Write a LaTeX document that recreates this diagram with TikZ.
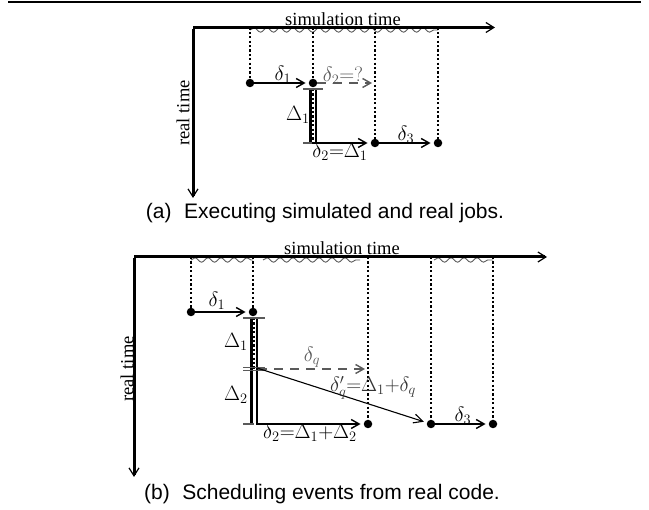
\documentclass[tikz,border=0pt]{standalone}
\usepackage{fontspec}
\setmainfont{Liberation Serif}
\newfontfamily\capfont{Liberation Sans}
\usetikzlibrary{arrows.meta,decorations.pathmorphing}
\definecolor{lg}{HTML}{5A5A5A}
\tikzset{
  axis/.style={line width=3pt,-{Straight Barb[length=8pt,width=10pt,line width=1.2pt]}},
  arr/.style={line width=2.4pt,-{Straight Barb[length=8pt,width=9pt,line width=1.4pt]},shorten >=3pt},
  garr/.style={arr,lg,dash pattern=on 9pt off 7pt},
  thinarr/.style={line width=1.1pt,-{Straight Barb[length=9pt,width=9pt,line width=1.1pt]},shorten >=3pt},
  dotline/.style={line width=2.3pt,dash pattern=on 2.2pt off 2.2pt},
  dot/.style={circle,fill=black,inner sep=0pt,minimum size=8.5pt},
  lbl/.style={font=\fontsize{22.5}{26}\selectfont,inner sep=0pt},
  axlbl/.style={font=\fontsize{18.5}{21}\selectfont,inner sep=0pt},
  captxt/.style={font=\capfont\fontsize{21}{24}\selectfont,inner sep=0pt},
  bar/.style={line width=2.4pt,double=white,double distance=3pt},
  tickline/.style={lg,line width=1.1pt},
  wave/.style={lg,line width=0.9pt,decorate,decoration={snake,segment length=13pt,amplitude=2.2pt}},
}
\begin{document}
\begin{tikzpicture}[x=1pt,y=-1pt]
\useasboundingbox (0,0) rectangle (649,510);
\draw[line width=1.3pt] (8,2) -- (641,2);
%%%%%%%%%%%% panel (a)
\coordinate (oa) at (193,27.5);
\coordinate (ha) at (495,27.5);
\coordinate (va) at (193,198);
\node[dot] (a1) at (250,83) {};
\node[dot] (a2) at (313,83) {};
\node[dot] (a3) at (375,143) {};
\node[dot] (a4) at (438,143) {};
\coordinate (aq) at (375,83);
\coordinate (abt) at (313,89);
\coordinate (abb) at (313,143);
\draw[wave] (250,30) -- (438,30);
\node[axlbl] (simA) at (343,19) {simulation time};
\draw[axis] (oa) -- (ha);
\draw[axis] ([yshift=-1.5pt]oa) -- (va);
\node[axlbl,rotate=90] (rtA) at (183,113) {real time};
\foreach \p in {a1,a2,a3,a4} \draw[dotline] (\p |- oa) -- (\p);
\draw[bar] (abt) -- (abb);
\draw[dotline,line width=1.8pt] (abt) -- (abb);
\draw[tickline] (303,89) -- (323,89);
\draw[tickline] (303,143) -- (313,143);
\draw[arr] (a1) -- (a2);
\draw[garr] (a2) -- (aq);
\draw[arr] ([xshift=-1pt]abb) -- (a3);
\draw[arr] (a3) -- (a4);
\node[lbl] (la1) at (283,75) {$\delta_1$};
\node[lbl,lg] (la2) at (343,76) {$\delta_2{=}?$};
\node[lbl] (lD1) at (298,115) {$\Delta_1$};
\node[lbl] (la3) at (340,152) {$\delta_2{=}\Delta_1$};
\node[lbl] (la4) at (406,135) {$\delta_3$};
\node[captxt] (capA) at (325,213) {(a)\hspace{0.6em}Executing simulated and real jobs.};
%%%%%%%%%%%% panel (b)
\coordinate (ob) at (134,257);
\coordinate (hb) at (547,257);
\coordinate (vb) at (134,477);
\node[dot] (b1) at (191,312) {};
\node[dot] (b2) at (253,312) {};
\node[dot] (b3) at (368,424) {};
\node[dot] (b4) at (431,424) {};
\node[dot] (b5) at (493,424) {};
\coordinate (bt) at (254,318);
\coordinate (bm) at (254,369);
\coordinate (bb) at (254,424);
\coordinate (bq) at (368,369);
\draw[wave] (191,260) -- (253,260);
\draw[wave] (263,260) -- (360,260);
\draw[wave] (434,260) -- (493,260);
\node[axlbl] (simB) at (342,248) {simulation time};
\draw[axis] (ob) -- (hb);
\draw[axis] ([yshift=-1.5pt]ob) -- (vb);
\node[axlbl,rotate=90] (rtB) at (127,369) {real time};
\foreach \p in {b1,b2,b3,b4,b5} \draw[dotline] (\p |- ob) -- (\p);
\draw[bar] (bt) -- (bb);
\draw[dotline,line width=1.8pt] (bt) -- (bm);
\draw[tickline] (243,318) -- (265,318);
\draw[tickline] (243,367.5) -- (265,367.5);
\draw[tickline] (243,370.5) -- (265,370.5);
\draw[tickline] (243,424) -- (254,424);
\draw[arr] (b1) -- (b2);
\draw[garr] ([xshift=4pt]bm) -- (bq);
\draw[thinarr] ([xshift=3pt,yshift=1pt]bm) -- (b4);
\draw[arr] ([xshift=2pt]bb) -- (b3);
\draw[arr] (b4) -- (b5);
\node[lbl] (lb1) at (217,301) {$\delta_1$};
\node[lbl] (lD1b) at (236,342) {$\Delta_1$};
\node[lbl] (lD2b) at (236,395) {$\Delta_2$};
\node[lbl,lg] (lbq) at (312,357) {$\delta_q$};
\node[lbl,black!80] (lbqp) at (373,388) {$\delta'_q{=}\Delta_1{+}\delta_q$};
\node[lbl] (lb2) at (310,433) {$\delta_2{=}\Delta_1{+}\Delta_2$};
\node[lbl] (lb3) at (463,416) {$\delta_3$};
\node[captxt] (capB) at (322,494) {(b)\hspace{0.6em}Scheduling events from real code.};
\end{tikzpicture}
\end{document}
